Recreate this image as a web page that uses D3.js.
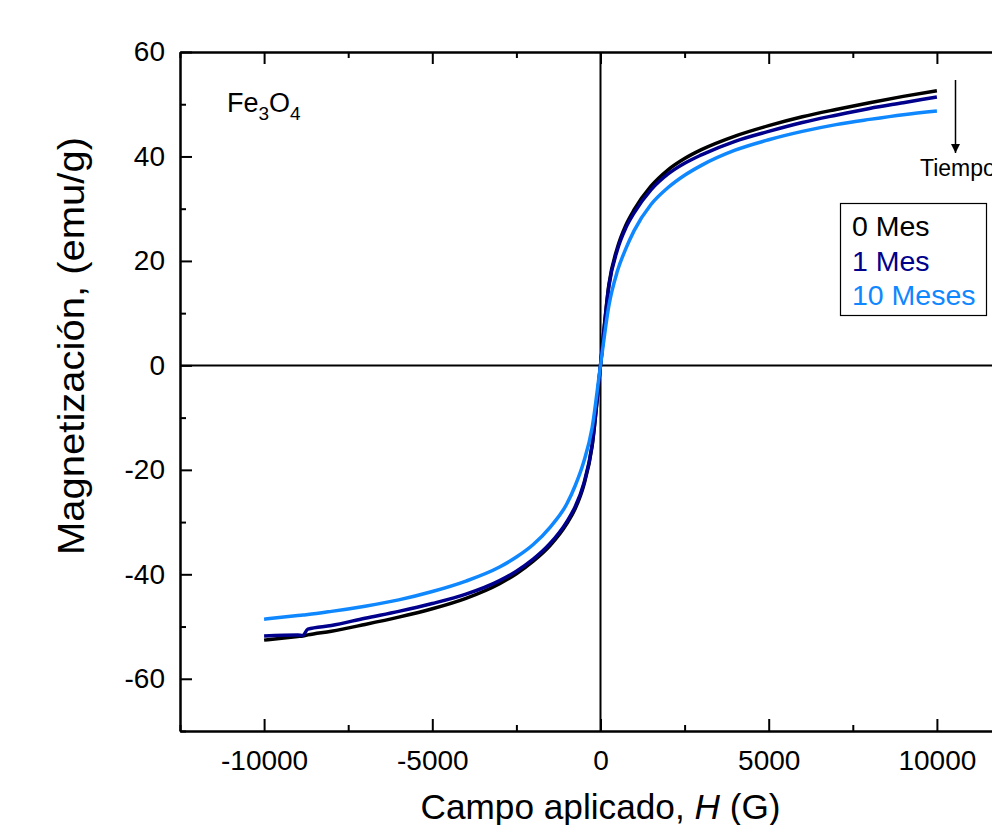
<!DOCTYPE html>
<html>
<head>
<meta charset="utf-8">
<script src="https://cdn.jsdelivr.net/npm/d3@7"></script>
<style>
  body { margin: 0; background: #fff; }
  svg { display: block; font-family: "Liberation Sans", Arial, sans-serif; }
</style>
</head>
<body>
<div id="chart"></div>
<script>
// Applied field H (G), shared by all three curves
const field = [-10000, -9000, -8850, -8700, -8000, -7000, -6000, -5000, -4000, -3000, -2500, -2000, -1500, -1000, -750, -500, -250,
  0, 250, 500, 750, 1000, 1500, 2000, 2500, 3000, 4000, 5000, 6000, 7000, 8000, 9000, 10000];

// Magnetization (emu/g) for each sample age
const mes0 = [-52.6, -51.9, -51.8, -51.6, -50.9, -49.6, -48.2, -46.6, -44.6, -41.8, -39.9, -37.5, -34.5, -30.3, -27.4, -23.0, -15.5,
  0, 15.5, 22.5, 26.8, 29.8, 34.3, 37.4, 39.6, 41.3, 43.9, 45.9, 47.6, 49.0, 50.3, 51.5, 52.6];
const mes1 = [-51.8, -51.6, -51.7, -50.5, -49.8, -48.4, -47.1, -45.6, -43.8, -41.2, -39.4, -37.1, -34.1, -29.9, -27.0, -22.7, -15.3,
  0, 15.2, 22.1, 26.3, 29.2, 33.6, 36.6, 38.7, 40.3, 42.9, 44.8, 46.5, 47.9, 49.2, 50.3, 51.4];
const meses10 = [-48.6, -47.9, -47.8, -47.7, -47.1, -46.1, -44.9, -43.3, -41.3, -38.6, -36.7, -34.3, -31.0, -26.5, -23.0, -18.5, -12.0,
  0, 11.5, 18.0, 22.3, 25.8, 30.8, 34.0, 36.4, 38.3, 41.2, 43.2, 44.8, 46.1, 47.1, 48.0, 48.7];

const seriesNames = ["0 Mes", "1 Mes", "10 Meses"];
const seriesColors = ["#000000", "#00008c", "#0f87ff"];
const xTicks = [-10000, -5000, 0, 5000, 10000];
const yTicks = [-60, -40, -20, 0, 20, 40, 60];

const width = 992, height = 825;
const plotLeft = 180, plotTop = 52, plotBottom = 731, plotRight = 1021;

const svg = d3.select("#chart").append("svg")
  .attr("width", width).attr("height", height);

const x = d3.scaleLinear().domain([-12500, 12500]).range([plotLeft, plotRight]);
const y = d3.scaleLinear().domain([-70, 60]).range([plotBottom, plotTop]);

// Zero lines
svg.append("line").attr("x1", x(0)).attr("x2", x(0)).attr("y1", plotTop).attr("y2", plotBottom)
  .attr("stroke", "#000").attr("stroke-width", 2);
svg.append("line").attr("x1", plotLeft).attr("x2", plotRight).attr("y1", y(0)).attr("y2", y(0))
  .attr("stroke", "#000").attr("stroke-width", 2);

// Curves
const line = d3.line().x(d => x(d[0])).y(d => y(d[1])).curve(d3.curveMonotoneX);
[mes0, mes1, meses10].forEach((vals, i) => {
  svg.append("path")
    .datum(field.map((h, j) => [h, vals[j]]))
    .attr("fill", "none")
    .attr("stroke", seriesColors[i])
    .attr("stroke-width", 3.5)
    .attr("stroke-linejoin", "round")
    .attr("d", line);
});

// Axes: ticks inward, minor ticks between majors
function styleAxis(g) {
  g.select(".domain").attr("stroke-width", 2);
  g.selectAll(".tick line").attr("stroke-width", 2);
}
const plain = d => String(d);
const xMinor = d3.range(-12500, 12501, 2500).filter(v => !xTicks.includes(v));
const yMinor = d3.range(-70, 61, 10).filter(v => !yTicks.includes(v));

const gx = svg.append("g").attr("transform", `translate(0,${plotBottom})`)
  .call(d3.axisBottom(x).tickValues(xTicks).tickFormat(plain).tickSize(-12).tickPadding(19).tickSizeOuter(0));
gx.selectAll("text").attr("font-size", 28).attr("dy", "0.71em");
gx.call(styleAxis);
svg.append("g").attr("transform", `translate(0,${plotBottom})`)
  .call(d3.axisBottom(x).tickValues(xMinor).tickSize(-6).tickFormat("").tickSizeOuter(0))
  .call(styleAxis);

svg.append("g").attr("transform", `translate(0,${plotTop})`)
  .call(d3.axisTop(x).tickValues(xTicks).tickSize(-12).tickFormat("").tickSizeOuter(0))
  .call(styleAxis);
svg.append("g").attr("transform", `translate(0,${plotTop})`)
  .call(d3.axisTop(x).tickValues(xMinor).tickSize(-6).tickFormat("").tickSizeOuter(0))
  .call(styleAxis);

const gy = svg.append("g").attr("transform", `translate(${plotLeft},0)`)
  .call(d3.axisLeft(y).tickValues(yTicks).tickFormat(plain).tickSize(-12).tickPadding(15).tickSizeOuter(0));
gy.selectAll("text").attr("font-size", 28);
gy.call(styleAxis);
svg.append("g").attr("transform", `translate(${plotLeft},0)`)
  .call(d3.axisLeft(y).tickValues(yMinor).tickSize(-6).tickFormat("").tickSizeOuter(0))
  .call(styleAxis);

// Axis titles
const xt = svg.append("text").attr("x", x(0)).attr("y", 819).attr("text-anchor", "middle")
  .attr("font-size", 35).attr("textLength", 360).attr("lengthAdjust", "spacingAndGlyphs");
xt.append("tspan").text("Campo aplicado, ");
xt.append("tspan").attr("font-style", "italic").text("H");
xt.append("tspan").text(" (G)");

svg.append("text")
  .attr("transform", `translate(84,346) rotate(-90)`)
  .attr("text-anchor", "middle").attr("font-size", 37)
  .attr("textLength", 418).attr("lengthAdjust", "spacingAndGlyphs")
  .text("Magnetización, (emu/g)");

// Sample label
const fe = svg.append("text").attr("x", 227).attr("y", 112).attr("font-size", 27);
fe.append("tspan").text("Fe");
fe.append("tspan").attr("font-size", 19).attr("dy", 8).text("3");
fe.append("tspan").attr("dy", -8).text("O");
fe.append("tspan").attr("font-size", 19).attr("dy", 8).text("4");

// Time arrow
svg.append("defs").append("marker").attr("id", "head")
  .attr("viewBox", "0 0 10 10").attr("refX", 10).attr("refY", 5)
  .attr("markerWidth", 18).attr("markerHeight", 9).attr("markerUnits", "userSpaceOnUse")
  .attr("orient", "auto")
  .append("path").attr("d", "M0,0L10,5L0,10Z").attr("fill", "#000");
svg.append("line").attr("x1", 955.5).attr("x2", 955.5).attr("y1", 80).attr("y2", 153)
  .attr("stroke", "#000").attr("stroke-width", 1.5).attr("marker-end", "url(#head)");
svg.append("text").attr("x", 920).attr("y", 176).attr("font-size", 23).text("Tiempo");

// Legend
const legend = svg.append("g");
legend.append("rect").attr("x", 840.5).attr("y", 203.5).attr("width", 146).attr("height", 112)
  .attr("fill", "#fff").attr("stroke", "#000").attr("stroke-width", 1.2);
seriesNames.forEach((name, i) => {
  legend.append("text").attr("x", 852).attr("y", 236 + i * 34.5)
    .attr("font-size", 28.5).attr("fill", seriesColors[i]).text(name);
});
</script>
</body>
</html>
